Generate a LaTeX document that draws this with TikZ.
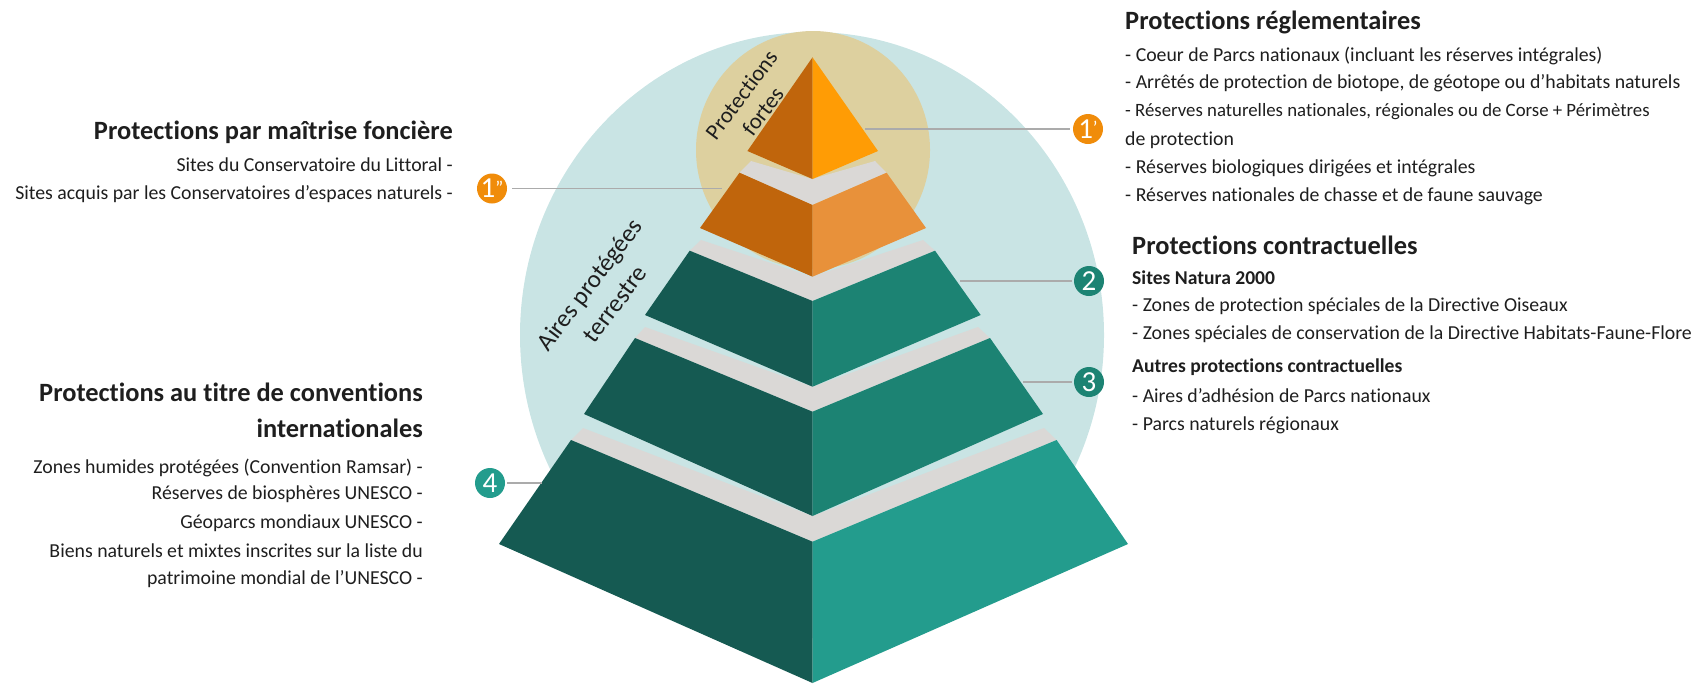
\documentclass[tikz,border=0pt]{standalone}
\usepackage{fontspec}
\setmainfont[Ligatures=CommonOff]{Carlito}
\definecolor{bgteal}{HTML}{C9E4E4}
\definecolor{bgtan}{HTML}{DDD09F}
\definecolor{band}{HTML}{DAD8D6}
\definecolor{darkteal}{HTML}{155A52}
\definecolor{midteal}{HTML}{1C8373}
\definecolor{liteal}{HTML}{239C8D}
\definecolor{darkor}{HTML}{C0650C}
\definecolor{toporange}{HTML}{FF9C05}
\definecolor{softorange}{HTML}{E8913A}
\definecolor{badgeor}{HTML}{F08C0A}
\definecolor{linegray}{HTML}{ABABAB}
\definecolor{ink}{HTML}{1E1E1E}
\newcommand{\fs}[1]{\fontsize{#1}{#1}\selectfont}
\newcommand{\upmark}[1]{\smash{\raisebox{3.5pt}{\fs{19}#1}}}
\tikzset{
  badge/.style={circle,fill=#1,text=white,minimum size=30pt,inner sep=0pt,font=\fontsize{29}{29}\selectfont},
  leader/.style={draw=linegray,line width=1.8pt},
  headtext/.style={text=ink,font=\fontsize{26.4}{26.4}\selectfont\bfseries,inner sep=0pt},
  subtext/.style={text=ink,font=\fontsize{19.6}{19.6}\selectfont\bfseries,inner sep=0pt},
  bodytext/.style={text=ink,font=\fontsize{19.8}{19.8}\selectfont,inner sep=0pt},
  sidetext/.style={text=ink,align=center,inner sep=0pt,rotate=53},
}
\begin{document}
\begin{tikzpicture}[x=1pt,y=-1pt]
\useasboundingbox (0,0) rectangle (1704,683);
% backgrounds
\fill[bgteal] (812,335) ellipse [x radius=292, y radius=303];
\fill[bgtan] (813,150) ellipse [x radius=117, y radius=119];
% gray bands
\fill[band] (739.5,172.7) -- (751,161) -- (812,179) -- (875,161) -- (886.6,172.7) -- (812,205) -- cycle;
\fill[band] (689.7,250.7) -- (701,240) -- (812,276.7) -- (923,240) -- (935,250.7) -- (812,301) -- cycle;
\fill[band] (635,338) -- (645,327) -- (812.6,386.7) -- (978,327) -- (990,338) -- (812.6,411.7) -- cycle;
\fill[band] (571,440) -- (583,428) -- (812.6,516) -- (1044,428) -- (1056.6,440) -- (812.6,541.7) -- cycle;
% tiers
\fill[darkor] (812.5,57.3) -- (747.4,151) -- (812.5,179) -- cycle;
\fill[toporange] (812.5,57.3) -- (878,151) -- (812.5,179) -- cycle;
\fill[darkor] (739.5,172.7) -- (812.5,205) -- (812.5,276.7) -- (700,228) -- cycle;
\fill[softorange] (886.6,172.7) -- (812.5,205) -- (812.5,276.7) -- (926,228) -- cycle;
\fill[darkteal] (689.7,250.7) -- (812.5,301) -- (812.5,386.7) -- (645,315) -- cycle;
\fill[midteal] (935,250.7) -- (812.5,301) -- (812.5,386.7) -- (980.7,315) -- cycle;
\fill[darkteal] (635,338) -- (812.5,411.7) -- (812.5,516) -- (584,414) -- cycle;
\fill[midteal] (990,338) -- (812.5,411.7) -- (812.5,516) -- (1043,414) -- cycle;
\fill[darkteal] (571,440) -- (812.5,541.7) -- (812.5,683) -- (499,544) -- cycle;
\fill[liteal] (1056.6,440) -- (812.5,541.7) -- (812.5,683) -- (1128,544) -- cycle;
% badges
\node[badge=badgeor] (b1p) at (1088,129) {1\upmark{’}};
\node[badge=badgeor] (b1s) at (492,188.5) {1\upmark{”}};
\node[badge=midteal] (b2) at (1089,281) {2};
\node[badge=midteal] (b3) at (1089,382) {3};
\node[badge=liteal] (b4) at (490,483) {4};
% connector ends
\coordinate (e1p) at (865,129);
\coordinate (e1s) at (722,188.5);
\coordinate (e2) at (960,281);
\coordinate (e3) at (1023,382);
\coordinate (e4) at (542,483);
\draw[leader,shorten <=3pt] (b1p) -- (e1p);
\draw[leader,shorten <=5pt] (b1s) -- (e1s);
\draw[leader,shorten <=2pt] (b2) -- (e2);
\draw[leader,shorten <=2pt] (b3) -- (e3);
\draw[leader,shorten <=2pt] (b4) -- (e4);
% rotated labels
\node[sidetext,font=\fontsize{22.5}{27}\selectfont] (lfort) at (752,103) {Protections\\fortes};
\node[sidetext,font=\fontsize{25}{32}\selectfont] (laires) at (602,294) {Aires protégées\\terrestre};
% right column
\node[headtext,anchor=west] (rh1) at (1125,22.5) {Protections réglementaires};
\node[bodytext,anchor=west] (r1) at (1125,56) {- Coeur de Parcs nationaux (incluant les réserves intégrales)};
\node[bodytext,anchor=west] (r2) at (1125,83.5) {- Arrêtés de protection de biotope, de géotope ou d'habitats naturels};
\node[bodytext,anchor=west,font=\fs{18.8}] (r3) at (1125,112) {- Réserves naturelles nationales, régionales ou de Corse + Périmètres};
\node[bodytext,anchor=west] (r4) at (1125,140) {de protection};
\node[bodytext,anchor=west] (r5) at (1125,168) {- Réserves biologiques dirigées et intégrales};
\node[bodytext,anchor=west] (r6) at (1125,196.5) {- Réserves nationales de chasse et de faune sauvage};
\node[headtext,anchor=west] (rh2) at (1132,245) {Protections contractuelles};
\node[subtext,anchor=west] (s1) at (1132,277.5) {Sites Natura 2000};
\node[bodytext,anchor=west] (r7) at (1132,306.5) {- Zones de protection spéciales de la Directive Oiseaux};
\node[bodytext,anchor=west] (r8) at (1132,334.5) {- Zones spéciales de conservation de la Directive Habitats-Faune-Flore};
\node[subtext,anchor=west] (s2) at (1132,367.5) {Autres protections contractuelles};
\node[bodytext,anchor=west] (r9) at (1132,395.5) {- Aires d’adhésion de Parcs nationaux};
\node[bodytext,anchor=west] (r10) at (1132,425) {- Parcs naturels régionaux};
% left top
\node[headtext,anchor=east] (lh1) at (453,132.5) {Protections par maîtrise foncière};
\node[bodytext,anchor=east] (l1) at (453,165) {Sites du Conservatoire du Littoral -};
\node[bodytext,anchor=east] (l2) at (453,194) {Sites acquis par les Conservatoires d’espaces naturels -};
% left bottom
\node[headtext,anchor=east] (lh2) at (423,392) {Protections au titre de conventions};
\node[headtext,anchor=east] (lh3) at (423,428.5) {internationales};
\node[bodytext,anchor=east] (l3) at (423,467.5) {Zones humides protégées (Convention Ramsar) -};
\node[bodytext,anchor=east] (l4) at (423,494) {Réserves de biosphères UNESCO -};
\node[bodytext,anchor=east] (l5) at (423,523) {Géoparcs mondiaux UNESCO -};
\node[bodytext,anchor=east] (l6) at (423,551) {Biens naturels et mixtes inscrites sur la liste du};
\node[bodytext,anchor=east] (l7) at (423,579.5) {patrimoine mondial de l’UNESCO -};
\end{tikzpicture}
\end{document}
